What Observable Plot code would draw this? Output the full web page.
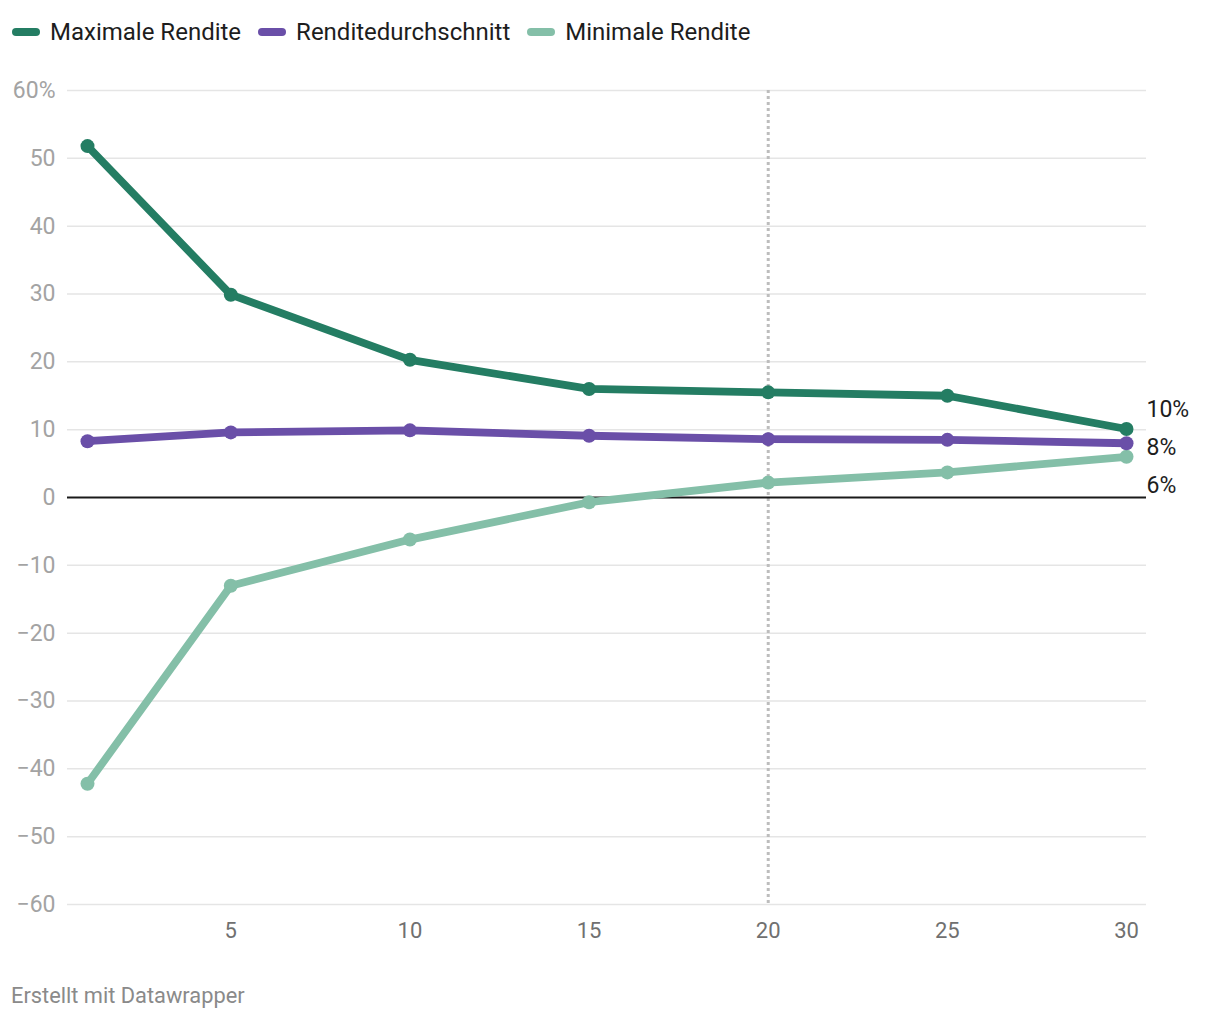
<!DOCTYPE html>
<html>
<head>
<meta charset="utf-8">
<script src="https://cdn.jsdelivr.net/npm/d3@7"></script>
<script src="https://cdn.jsdelivr.net/npm/@observablehq/plot@0.6"></script>
<style>
  html, body { margin: 0; padding: 0; background: #fff; }
  body { width: 1220px; height: 1020px; font-family: Roboto, "Noto Sans", sans-serif; position: relative; }
  #legend { height: 60px; display: flex; align-items: center; padding-left: 12px; box-sizing: border-box; padding-top: 4px; }
  .item { display: flex; align-items: center; margin-right: 17px; font-size: 24px; color: #1d1d1d; }
  .sw { width: 28px; height: 8px; border-radius: 4px; margin-right: 10px; }
  #footer { position: absolute; left: 11px; top: 983px; font-size: 21.8px; color: #8a8a8a; }
  svg { display: block; }
</style>
</head>
<body>
<div id="legend"></div>
<div id="chart"></div>
<div id="footer">Erstellt mit Datawrapper</div>
<script>
const years = [1, 5, 10, 15, 20, 25, 30];
const seriesNames = ["Maximale Rendite", "Renditedurchschnitt", "Minimale Rendite"];
const seriesColors = ["#247d63", "#6a4fa8", "#84bfa8"];
const maxRendite = [51.8, 29.9, 20.3, 16.0, 15.5, 15.0, 10.1];
const avgRendite = [8.3, 9.6, 9.9, 9.1, 8.6, 8.5, 8.0];
const minRendite = [-42.2, -13.0, -6.2, -0.7, 2.2, 3.7, 6.0];
const endLabels = ["10%", "8%", "6%"];
const yTicks = [-60, -50, -40, -30, -20, -10, 0, 10, 20, 30, 40, 50, 60];
const xTicks = [5, 10, 15, 20, 25, 30];
const markerYear = 20;

// legend
const legend = document.getElementById("legend");
seriesNames.forEach((n, i) => {
  const it = document.createElement("div");
  it.className = "item";
  it.innerHTML = `<div class="sw" style="background:${seriesColors[i]}"></div><span>${n}</span>`;
  legend.appendChild(it);
});

const valuesBySeries = [maxRendite, avgRendite, minRendite];
const data = [];
valuesBySeries.forEach((vals, s) => {
  vals.forEach((v, i) => data.push({series: seriesNames[s], year: years[i], value: v, order: s}));
});
// draw minimum first, then average, then maximum
const drawOrder = [2, 1, 0];

const lastPoints = valuesBySeries.map((vals, s) => ({
  series: seriesNames[s], year: years[years.length - 1], value: vals[vals.length - 1], label: endLabels[s], rank: s
}));

const fmt = d => (d < 0 ? "\u2212" + Math.abs(d) : String(d)) + (d === 60 ? "%" : "");

const marks = [
  Plot.ruleY(yTicks.filter(d => d !== 0), {stroke: "#e5e5e5", strokeWidth: 1.5, insetLeft: -20, insetRight: -20}),
  Plot.ruleX([markerYear], {stroke: "#bdbdbd", strokeWidth: 3, strokeDasharray: "3,3"}),
  Plot.ruleY([0], {stroke: "#1a1a1a", strokeWidth: 1.8, insetLeft: -20, insetRight: -20}),
];
drawOrder.forEach(s => {
  const d = data.filter(r => r.order === s);
  marks.push(Plot.line(d, {x: "year", y: "value", stroke: seriesColors[s], strokeWidth: 7.8, strokeLinejoin: "round", strokeLinecap: "round"}));
  marks.push(Plot.dot(d, {x: "year", y: "value", fill: seriesColors[s], r: 7, stroke: "none"}));
});
// end labels, spread apart (38px) around the middle series
lastPoints.forEach(p => {
  marks.push(Plot.text([p], {
    x: "year", y: () => lastPoints[1].value, text: "label",
    dx: 20, dy: (p.rank - 1) * 38 + 4, textAnchor: "start",
    fill: "#1d1d1d", fontSize: 23
  }));
});
marks.push(Plot.axisY({ticks: yTicks, tickFormat: fmt, tickSize: 0, tickPadding: 32, fontSize: 23, color: "#a3a3a3", label: null}));
marks.push(Plot.axisX({ticks: xTicks, tickFormat: d => String(d), tickSize: 0, tickPadding: 18, fontSize: 22, color: "#707070", label: null}));

const chart = Plot.plot({
  width: 1220,
  height: 900,
  marginTop: 30,
  marginBottom: 56,
  marginLeft: 87,
  marginRight: 94,
  style: {fontFamily: "Roboto, 'Noto Sans', sans-serif", background: "transparent", overflow: "visible"},
  x: {domain: [1, 30]},
  y: {domain: [-60, 60]},
  marks
});
document.getElementById("chart").appendChild(chart);
</script>
</body>
</html>
